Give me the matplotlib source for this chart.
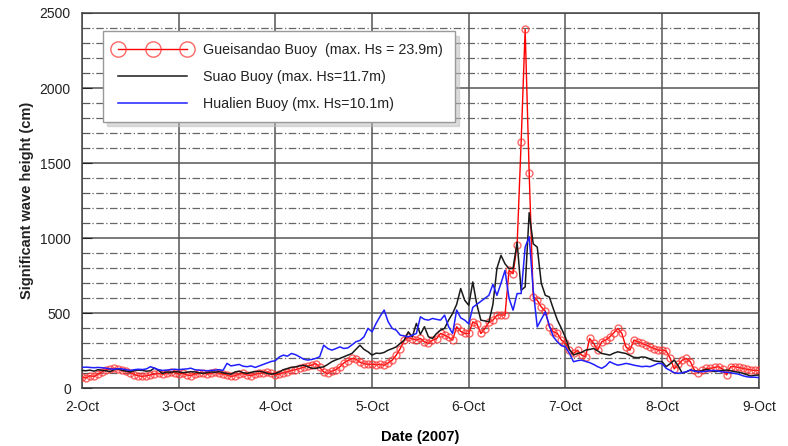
import numpy as np
import matplotlib
matplotlib.use('Agg')
from matplotlib import pyplot as plt
from matplotlib.ticker import MultipleLocator

plt.rcParams['font.family'] = ['Liberation Sans', 'DejaVu Sans']

# hourly significant wave height (cm), 2-Oct 00:00 to 9-Oct 00:00, 2007
gueisandao = [
    75, 70, 85, 80, 95, 110, 125, 130, 135, 128, 120, 115, 105, 92, 85, 80, 85, 90, 95, 100, 95, 100, 110, 105,
    95, 100, 90, 85, 95, 100, 105, 95, 100, 110, 100, 95, 90, 80, 85, 95, 100, 90, 85, 95, 100, 105, 110, 100,
    89, 95, 105, 111, 120, 125, 133, 140, 150, 155, 166, 140, 110, 100, 115, 125, 144, 170, 185, 200, 195, 175, 166, 160,
    162, 158, 160, 155, 170, 188, 222, 266, 320, 340, 330, 322, 333, 310, 300, 322, 330, 366, 355, 340, 322, 411, 380, 366,
    366, 443, 432, 366, 399, 440, 455, 488, 490, 488, 786, 764, 952, 1638, 2390, 1432, 609, 587, 543, 515, 410, 377, 366, 322,
    300, 255, 233, 255, 222, 211, 333, 300, 255, 311, 322, 344, 370, 400, 366, 277, 255, 322, 311, 300, 290, 277, 266, 255,
    255, 250, 200, 130, 160, 189, 200, 178, 123, 105, 120, 134, 134, 140, 145, 130, 90, 145, 145, 140, 134, 128, 123, 120,
    120,
]
suao = [
    120, 118, 122, 115, 125, 120, 118, 112, 125, 130, 120, 115, 110, 118, 122, 120, 115, 118, 136, 120, 100, 110, 108, 112,
    110, 105, 108, 112, 110, 105, 100, 105, 110, 108, 112, 105, 100, 95, 110, 115, 105, 100, 108, 112, 115, 110, 100, 95,
    100, 110, 125, 133, 140, 144, 150, 155, 145, 135, 133, 140, 144, 160, 178, 190, 200, 211, 222, 233, 260, 288, 260, 244,
    222, 235, 233, 240, 255, 265, 277, 300, 322, 377, 344, 433, 360, 411, 344, 333, 366, 388, 400, 455, 499, 560, 665, 587,
    554, 709, 560, 455, 450, 443, 560, 800, 886, 830, 797, 800, 974, 654, 676, 1170, 963, 941, 700, 620, 609, 530, 455, 400,
    340, 260, 222, 233, 240, 255, 260, 266, 250, 233, 228, 222, 235, 244, 238, 233, 220, 207, 205, 210, 207, 195, 184, 180,
    178, 145, 165, 189, 150, 101, 110, 123, 118, 112, 120, 127, 120, 112, 115, 120, 123, 118, 112, 108, 101, 92, 83, 88,
    90,
]
hualien = [
    140, 142, 140, 138, 140, 138, 135, 130, 128, 132, 130, 125, 120, 125, 128, 126, 130, 145, 135, 125, 120, 122, 125, 128,
    125, 128, 130, 135, 125, 122, 120, 118, 120, 122, 125, 120, 167, 150, 155, 160, 148, 145, 150, 140, 150, 160, 170, 180,
    185, 210, 222, 215, 233, 225, 211, 195, 189, 193, 200, 211, 288, 266, 255, 265, 277, 266, 270, 290, 311, 320, 344, 400,
    377, 433, 480, 522, 444, 400, 388, 355, 350, 344, 355, 366, 477, 460, 455, 466, 460, 455, 488, 411, 366, 522, 470, 455,
    430, 540, 560, 580, 600, 620, 693, 620, 700, 786, 600, 521, 632, 632, 941, 1010, 654, 410, 460, 510, 420, 344, 310, 285,
    277, 233, 178, 185, 189, 180, 172, 160, 145, 134, 150, 178, 165, 155, 160, 167, 162, 155, 150, 145, 148, 145, 155, 167,
    165, 134, 120, 105, 101, 105, 112, 123, 115, 112, 112, 115, 118, 120, 115, 110, 108, 105, 100, 95, 85, 78, 75, 75,
    72,
]
day_labels = ['2-Oct', '3-Oct', '4-Oct', '5-Oct', '6-Oct', '7-Oct', '8-Oct', '9-Oct']
series_names = ['Gueisandao Buoy  (max. Hs = 23.9m)',
                'Suao Buoy (max. Hs=11.7m)',
                'Hualien Buoy (mx. Hs=10.1m)']

days = np.arange(len(gueisandao)) / 24.0

fig = plt.figure(figsize=(7.88, 4.46), dpi=100)
ax = fig.add_axes([0.104, 0.129, 0.859, 0.842])

ax.plot(days, gueisandao, color='red', lw=1.0, marker='o', ms=5, mfc='none',
        mec=(1, 0.2, 0.2, 0.75), mew=1.0, label=series_names[0], zorder=3)
ax.plot(days, suao, color='#1a1a1a', lw=1.1, label=series_names[1], zorder=4)
ax.plot(days, hualien, color='#1f1fff', lw=1.1, label=series_names[2], zorder=4)

ax.set_xlim(0, 7)
ax.set_ylim(0, 2500)
ax.set_xticks(range(8))
ax.set_xticklabels(day_labels)
ax.yaxis.set_major_locator(MultipleLocator(500))
ax.yaxis.set_minor_locator(MultipleLocator(100))

ax.grid(which='major', color='#555555', lw=1.1, ls='-')
ax.grid(which='minor', axis='y', color='#666666', lw=0.9, ls=(0, (6, 2, 1, 2)))
ax.set_axisbelow(True)

ax.tick_params(axis='x', length=0, pad=8, labelsize=10, colors='#222222')
ax.tick_params(axis='y', which='major', direction='in', length=7, pad=8,
               labelsize=10, colors='#222222', right=False)
ax.tick_params(axis='y', which='minor', direction='in', length=6, color='#555555')
for sp in ax.spines.values():
    sp.set_color('#444444')
    sp.set_linewidth(1.1)

ax.set_xlabel('Date (2007)', fontsize=10.5, fontweight='bold', labelpad=12)
ax.set_ylabel('Significant wave height (cm)', fontsize=10.5, fontweight='bold',
              labelpad=4, color='#222222')

leg = ax.legend(loc='upper left', bbox_to_anchor=(0.02, 0.97), numpoints=3,
                markerscale=2.2, handlelength=5.4, handletextpad=0.85,
                frameon=True, fancybox=False,
                shadow={'color': '#bbbbbb', 'ox': 3, 'oy': -3},
                edgecolor='#999999', framealpha=1, borderpad=0.8,
                labelspacing=0.9, prop={'size': 10.3})
leg.get_frame().set_linewidth(1.0)
for t in leg.get_texts():
    t.set_color('#222222')

fig.savefig('out.png', dpi=100)
